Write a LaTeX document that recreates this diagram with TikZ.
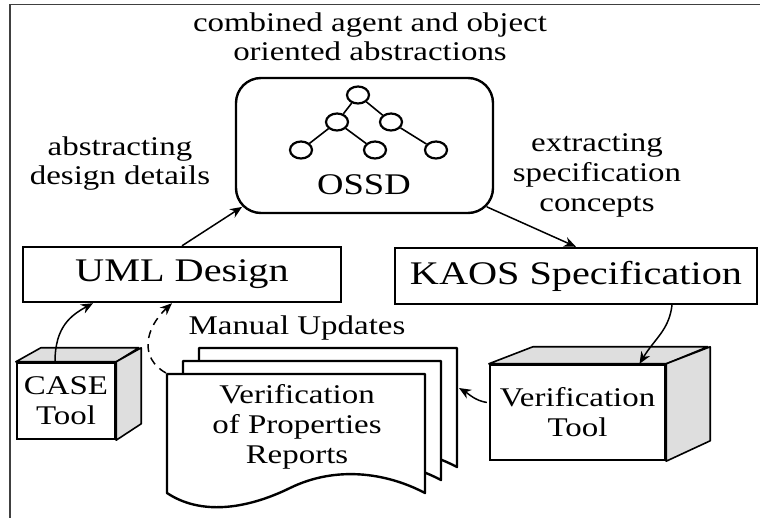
\documentclass[tikz,border=0pt]{standalone}
\usepackage{fontspec}
\setmainfont{Liberation Serif}[FakeStretch=1.22]
\usetikzlibrary{shapes.geometric,arrows.meta,calc}

\begin{document}
\begin{tikzpicture}[x=1pt,y=-1pt,
  every node/.style={inner sep=0pt},
  lbl/.style={align=center,font=\fontsize{27}{29}\selectfont},
  bigbox/.style={draw,line width=2.4pt,fill=white,font=\fontsize{33}{36}\selectfont},
  face/.style={draw,line width=1.6pt,fill=black!13,line join=round},
  frontface/.style={draw,line width=2.4pt,fill=white,align=center,font=\fontsize{27}{30}\selectfont},
  leaf/.style={draw,ellipse,line width=2.2pt,minimum width=22pt,minimum height=17pt},
  arr/.style={line width=1.5pt,-{Stealth[length=12pt,width=10pt]}},
  docpage/.style={draw,line width=2.4pt,fill=white,line join=round},
]
\useasboundingbox (0,0) rectangle (760,518);

% frame
\draw[line width=1.6pt,black!75] (10,518) -- (10,4.5) -- (760,4.5);

% captions
\node[lbl] (top) at (370,37) {combined agent and object\\oriented abstractions};
\node[lbl] (abs) at (120,164) {abstracting\\design details};
\node[lbl,font=\fontsize{27}{30}\selectfont] (ext) at (597,175) {extracting\\specification\\concepts};

% OSSD box with its tree
\node[draw,line width=2.4pt,rounded corners=25pt,minimum width=257pt,minimum height=135pt] (ossd) at (364.5,145.5) {};
\node[font=\fontsize{30}{32}\selectfont] (ossdlbl) at (364,185) {OSSD};
\node[leaf] (t1) at (358,95) {};
\node[leaf] (t2) at (337,122) {};
\node[leaf] (t3) at (391,122) {};
\node[leaf] (t4) at (301,150) {};
\node[leaf] (t5) at (375,150) {};
\node[leaf] (t6) at (436,150) {};
\draw[line width=1.6pt] (t1) -- (t2) (t1) -- (t3) (t2) -- (t4) (t2) -- (t5) (t3) -- (t6);

% design and specification boxes
\node[bigbox,minimum width=318pt,minimum height=55pt] (uml) at (182,274.5) {UML Design};
\node[bigbox,minimum width=362pt,minimum height=56pt] (kaos) at (576,276) {KAOS Specification};

% CASE tool
\node[frontface,minimum width=98pt,minimum height=76pt] (case) at (66,401) {CASE\\Tool};
\draw[face] (case.north west) -- ++(25,-14) -- ++(98,0) -- (case.north east) -- cycle;
\draw[face] (case.north east) -- ++(25,-14) -- ++(0,76) -- (case.south east) -- cycle;

% verification tool
\node[frontface,minimum width=175pt,minimum height=95pt] (vt) at (577.5,412.5) {Verification\\Tool};
\draw[face] (vt.north west) -- ++(44,-17) -- ++(175,0) -- (vt.north east) -- cycle;
\draw[face] (vt.north east) -- ++(44,-17) -- ++(0,94) -- (vt.south east) -- cycle;

% stack of reports
\foreach \s in {32,16,0}{
  \draw[docpage,shift={(\s,-\s*13/16)}]
    (167,374) -- (425,374) -- (425,493)
    .. controls (385,472) and (335,466) .. (290,488)
    .. controls (245,510) and (200,515) .. (167,493) -- cycle;
}
\node[lbl,font=\fontsize{27}{30}\selectfont] (rep) at (297,427) {Verification\\of Properties\\Reports};
\node[lbl] (manual) at (297,328) {Manual Updates};
\coordinate (docR) at (459,388);
\coordinate (docTL) at (166,373);

% connectors
\draw[arr] (uml.north) -- ($(ossd.south west)+(7.3,-7.3)$);
\draw[arr] ($(ossd.south east)+(-7.3,-7.3)$) -- (kaos.north);
\draw[arr] ($(kaos.south)+(96,0)$) .. controls +(-3,25) and +(15,-25) .. ($(vt.north)+(62,0)$);
\draw[arr] ($(vt.west)+(-2,-10)$) .. controls +(-12,-2) and +(10,6) .. (docR);
\draw[arr] ($(case.north)+(-11,0)$) .. controls +(0,-35) and +(-22,12) .. ($(uml.south)+(-89,0)$);
\draw[arr,dash pattern=on 8pt off 6pt] (docTL) .. controls +(-27,-15) and +(-27,25) .. ($(uml.south)+(-10,0)$);
\end{tikzpicture}
\end{document}
